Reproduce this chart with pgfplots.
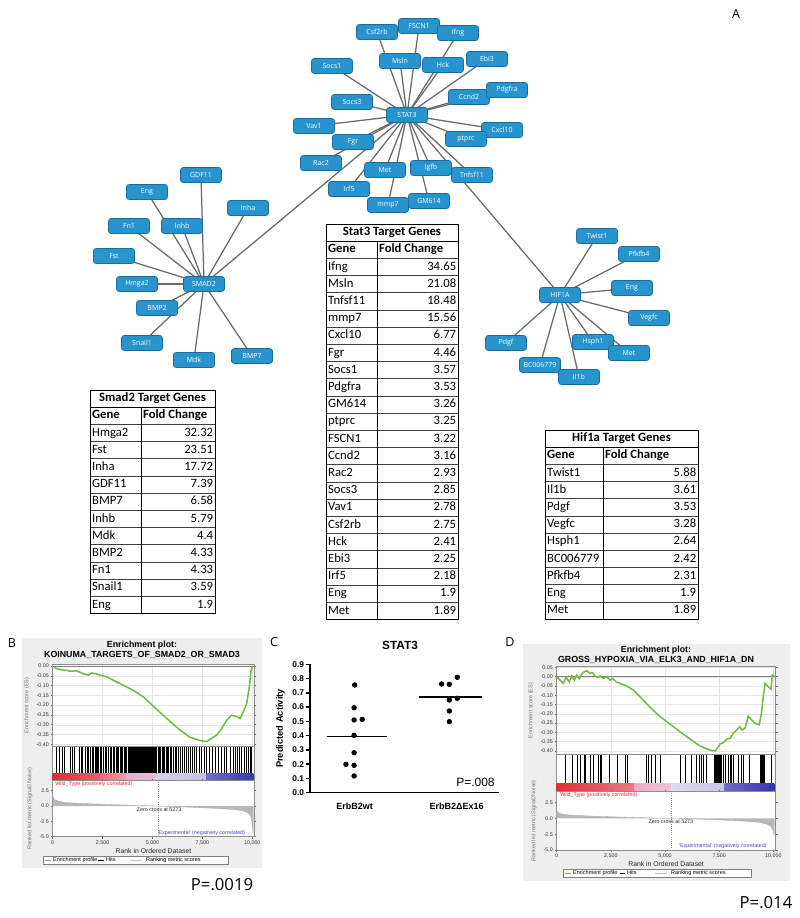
\documentclass[border=0pt]{standalone}
\usepackage{pgfplots}
\pgfplotsset{compat=1.18}
\usepackage{fontspec}
\setmainfont{Carlito}
\newfontfamily\arialf{Liberation Sans}
\newfontfamily\opsf{Open Sans}

\definecolor{nodeblue}{RGB}{40,148,206}
\definecolor{nodeedge}{RGB}{26,108,160}
\definecolor{edgegray}{RGB}{105,105,105}
\definecolor{esgreen}{RGB}{108,190,58}
\definecolor{panelgray}{RGB}{238,238,238}
\definecolor{wtred}{RGB}{225,40,50}
\definecolor{expblue}{RGB}{70,70,205}

\newcommand{\tabfont}{\fontsize{7.6}{9}\selectfont}
\tikzset{
 gn/.style={rounded corners=1.6pt, fill=nodeblue, draw=nodeedge, line width=0.4pt,
   minimum width=24.6pt, minimum height=9pt, inner sep=0pt, text=white,
   font=\opsf\fontsize{4.2}{5}\selectfont},
 ed/.style={edgegray, line width=0.75pt},
 tc/.style={inner sep=0pt, text height=5.0pt, text depth=1.4pt},
}

% #1 xl, #2 xm, #3 xr, #4 top, #5 title, #6 number of data rows, #7 data
\newcommand{\gtab}[7]{%
 \pgfmathsetmacro{\tbot}{#4+17.2*(#6+2)}
 \fill[white] (#1,#4) rectangle (#3,\tbot);
 \foreach \g/\v [count=\i] in {#7} {
   \draw[line width=0.45pt, black!75] (#1,{#4+17.2*(\i+1)}) -- (#3,{#4+17.2*(\i+1)});
   \node[tc, font=\tabfont, anchor=west] at (#1+1.8,{#4+17.2*(\i+1)+8.6}) {\g};
   \node[tc, font=\tabfont, anchor=east] at (#3-1.5,{#4+17.2*(\i+1)+8.6}) {\v};
 }
 \draw[line width=0.55pt] (#1,#4) rectangle (#3,\tbot);
 \draw[line width=0.55pt] (#1,#4+17.2) -- (#3,#4+17.2);
 \draw[line width=0.55pt] (#2,#4+17.2) -- (#2,\tbot);
 \node[tc, font=\tabfont\bfseries] at ({(#1+#3)/2},#4+8.6) {#5};
 \node[tc, font=\tabfont\bfseries, anchor=west] at (#1+1.8,#4+25.8) {Gene};
 \node[tc, font=\tabfont\bfseries, anchor=west] at (#2+1.8,#4+25.8) {Fold Change};
}

\def\statnodes{377/32/Csf2rb,419/26/FSCN1,458/33/Ifng,400/61/Msln,443/65/Hck,487/59/Ebi3,332/66/Socs1,469/97/Ccnd2,507/90/Pdgfra,352/102/Socs3,314/126/Vav1,502/130/Cxcl10,466/139/ptprc,353/142/Fgr,321/163/Rac2,385/170/Met,431/168/Igfb,472/175/Tnfsf11,349/189/Irf5,388/205/mmp7,429/201/GM614}
\def\smadnodes{201/175/GDF11,147/192/Eng,248/208/Inha,129/226/Fn1,182/226/Inhb,114/256/Fst,137/284/Hmga2,157/308/BMP2,142/343/Snail1,194/360/Mdk,252/356/BMP7}
\def\hifnodes{597/236/Twist1,639/254/Pfkfb4,632/288/Eng,649/318/Vegfc,506/343/Pdgf,593/342/Hsph1,629/353/Met,540/365/BC006779,579/377/Il1b}

\pgfplotsset{
 gsea/.style={scale only axis, anchor=north west, xmin=0, xmax=10100, clip=true,
   scaled x ticks=false, scaled y ticks=false,
   axis background/.style={fill=white},
   axis line style={black!45, line width=0.3pt},
   tick style={black!60, line width=0.3pt}, major tick length=1.3pt, tick align=outside,
   ticklabel style={font=\arialf\fontsize{3.2}{3.8}\selectfont, text=black!80, inner sep=0.8pt},
   label style={font=\arialf\fontsize{3.3}{4}\selectfont, text=black!55},
 },
}

\begin{document}
\begin{tikzpicture}
\begin{scope}[x=0.6pt,y=-0.6pt]
\path[use as bounding box] (0,0) rectangle (800,918);

% ---------------- network ----------------
\foreach \x/\y/\t in \statnodes {\draw[ed] (407,115) -- (\x,\y);}
\foreach \x/\y/\t in \smadnodes {\draw[ed] (204,284) -- (\x,\y);}
\foreach \x/\y/\t in \hifnodes {\draw[ed] (560,295) -- (\x,\y);}
\draw[ed] (407,115) -- (204,284);
\draw[ed] (407,115) -- (560,295);
\foreach \x/\y/\t in \statnodes {\node[gn] at (\x,\y) {\t};}
\foreach \x/\y/\t in \smadnodes {\node[gn] at (\x,\y) {\t};}
\foreach \x/\y/\t in \hifnodes {\node[gn] at (\x,\y) {\t};}
\node[gn] at (407,115) {STAT3};
\node[gn] at (204,284) {SMAD2};
\node[gn] at (560,295) {HIF1A};

% ---------------- tables ----------------
\gtab{90}{141}{215}{390}{Smad2 Target Genes}{11}{Hmga2/32.32,Fst/23.51,Inha/17.72,GDF11/7.39,BMP7/6.58,Inhb/5.79,Mdk/4.4,BMP2/4.33,Fn1/4.33,Snail1/3.59,Eng/1.9}
\gtab{326}{377}{458}{224}{Stat3 Target Genes}{21}{Ifng/34.65,Msln/21.08,Tnfsf11/18.48,mmp7/15.56,Cxcl10/6.77,Fgr/4.46,Socs1/3.57,Pdgfra/3.53,GM614/3.26,ptprc/3.25,FSCN1/3.22,Ccnd2/3.16,Rac2/2.93,Socs3/2.85,Vav1/2.78,Csf2rb/2.75,Hck/2.41,Ebi3/2.25,Irf5/2.18,Eng/1.9,Met/1.89}
\gtab{545}{603}{698}{430}{Hif1a Target Genes}{9}{Twist1/5.88,Il1b/3.61,Pdgf/3.53,Vegfc/3.28,Hsph1/2.64,BC006779/2.42,Pfkfb4/2.31,Eng/1.9,Met/1.89}

% ---------------- panel letters ----------------
\node[font=\opsf\fontsize{7.5}{9}\selectfont] at (736,14) {A};
\node[font=\opsf\fontsize{7.5}{9}\selectfont] at (12,643) {B};
\node[font=\opsf\fontsize{7.5}{9}\selectfont] at (274,642) {C};
\node[font=\opsf\fontsize{7.5}{9}\selectfont] at (510,642) {D};
\node[font=\opsf\fontsize{10}{12}\selectfont] at (222,885) {P=.0019};
\node[font=\opsf\fontsize{10}{12}\selectfont] at (766,903) {P=.014};

% ---------------- GSEA panel backgrounds, titles, legends ----------------
\fill[panelgray] (22,638) rectangle (262,868);
\fill[panelgray] (523,644) rectangle (790,881);
\node[font=\arialf\bfseries\fontsize{5.3}{6}\selectfont] at (142,645.5) {Enrichment plot:};
\node[font=\arialf\bfseries\fontsize{5.3}{6}\selectfont] at (142,655) {KOINUMA\_TARGETS\_OF\_SMAD2\_OR\_SMAD3};
\node[font=\arialf\bfseries\fontsize{5.3}{6}\selectfont] at (656,650) {Enrichment plot:};
\node[font=\arialf\bfseries\fontsize{5.3}{6}\selectfont] at (656,659.5) {GROSS\_HYPOXIA\_VIA\_ELK3\_AND\_HIF1A\_DN};

% legend B
\draw[fill=white, draw=black!50, line width=0.3pt] (43,856) rectangle (228,864);
\draw[esgreen, line width=0.6pt] (45,860) -- (51,860);
\node[font=\arialf\fontsize{3.3}{4}\selectfont, anchor=west, inner sep=0.5pt] at (52,860) {Enrichment profile};
\draw[black, line width=0.5pt] (98,860) -- (104,860);
\node[font=\arialf\fontsize{3.3}{4}\selectfont, anchor=west, inner sep=0.5pt] at (105,860) {Hits};
\draw[black!25, line width=0.5pt] (130,860) -- (142,860);
\node[font=\arialf\fontsize{3.3}{4}\selectfont, anchor=west, inner sep=0.5pt] at (145,860) {Ranking metric scores};
% legend D
\draw[fill=white, draw=black!50, line width=0.3pt] (563,869) rectangle (751,877);
\draw[esgreen, line width=0.6pt] (565,873) -- (571,873);
\node[font=\arialf\fontsize{3.3}{4}\selectfont, anchor=west, inner sep=0.5pt] at (572,873) {Enrichment profile};
\draw[black, line width=0.5pt] (620,873) -- (625,873);
\node[font=\arialf\fontsize{3.3}{4}\selectfont, anchor=west, inner sep=0.5pt] at (626,873) {Hits};
\draw[black!25, line width=0.5pt] (655,873) -- (667,873);
\node[font=\arialf\fontsize{3.3}{4}\selectfont, anchor=west, inner sep=0.5pt] at (670,873) {Ranking metric scores};

% C title
\node[font=\arialf\bfseries\fontsize{7.1}{8}\selectfont] at (400,645) {STAT3};

% anchor coordinates for axes
\coordinate (Bes) at (52.7,664);
\coordinate (Bhit) at (52.7,746.7);
\coordinate (Bmet) at (52.7,780.7);
\coordinate (Des) at (556.7,666.5);
\coordinate (Dhit) at (556.7,754.7);
\coordinate (Dmet) at (556.7,791.7);
\coordinate (Cax) at (310,664.3);
\end{scope}

% ================= Panel B =================
\begin{axis}[gsea, at={(Bes)}, width=120.96pt, height=49.6pt, ymin=-0.412, ymax=0.01,
  xtick={0,2500,5000,7500,10000}, xticklabels={}, xtick style={draw=none},
  ytick={0,-0.05,-0.1,-0.15,-0.2,-0.25,-0.3,-0.35,-0.4},
  yticklabels={0.00,-0.05,-0.10,-0.15,-0.20,-0.25,-0.30,-0.35,-0.40},
  xmajorgrids, ymajorgrids, grid style={black!10, line width=0.25pt},
  ylabel={Enrichment score (ES)}]
\addplot[black!50, line width=0.3pt] coordinates {(0,0) (10100,0)};
\addplot[esgreen, line width=0.9pt] coordinates {(0,0) (200,-0.014) (450,-0.02) (700,-0.022) (870,-0.027) (1200,-0.025) (1540,-0.04) (1790,-0.047) (1950,-0.036) (2200,-0.04) (2370,-0.047) (2700,-0.056) (3200,-0.081) (3700,-0.107) (4040,-0.124) (4540,-0.158) (5040,-0.205) (5710,-0.268) (6380,-0.327) (6880,-0.364) (7380,-0.381) (7720,-0.386) (7970,-0.369) (8220,-0.353) (8470,-0.319) (8720,-0.276) (8970,-0.251) (9220,-0.259) (9390,-0.268) (9550,-0.234) (9720,-0.192) (9850,-0.107) (9940,-0.022) (10000,0.0)};
\end{axis}

\begin{axis}[gsea, at={(Bhit)}, width=120.96pt, height=20.4pt, ymin=0, ymax=1, xtick=\empty, ytick=\empty]
\addplot[ycomb, black, line width=0.35pt, mark=none] coordinates {(200,1) (334,1) (468,1) (585,1) (902,1) (1002,1) (1102,1) (1336,1) (1420,1) (1503,1) (1637,1) (1737,1) (1804,1) (1870,1) (1971,1) (2037,1) (2121,1) (2171,1) (2238,1) (2305,1) (2371,1) (2438,1) (2538,1) (2622,1) (2705,1) (2806,1) (2872,1) (2939,1) (3039,1) (3106,1) (3173,1) (3240,1) (3307,1) (3373,1) (3440,1) (3507,1) (3574,1) (3641,1) (3707,1) (3774,1) (3841,1) (3891,1) (3941,1) (3991,1) (4041,1) (4092,1) (4142,1) (4192,1) (4242,1) (4292,1) (4342,1) (4392,1) (4442,1) (4492,1) (4542,1) (4593,1) (4643,1) (4693,1) (4743,1) (4793,1) (4843,1) (4893,1) (4943,1) (4993,1) (5043,1) (5094,1) (5144,1) (5210,1) (5277,1) (5344,1) (5411,1) (5478,1) (5544,1) (5611,1) (5678,1) (5745,1) (5812,1) (5878,1) (5962,1) (6045,1) (6129,1) (6212,1) (6296,1) (6379,1) (6480,1) (6580,1) (6680,1) (6780,1) (6880,1) (6997,1) (7114,1) (7214,1) (7348,1) (7465,1) (7582,1) (7715,1) (7849,1) (7983,1) (8133,1) (8300,1) (8467,1) (8584,1) (8717,1) (8884,1) (9051,1) (9152,1) (9252,1) (9352,1) (9469,1) (9586,1) (9686,1) (9803,1) (9886,1) (9970,1)};
\fill[left color={rgb,255:red,228;green,40;blue,52}, right color={rgb,255:red,236;green,95;blue,108}] (axis cs:0,0) rectangle (axis cs:2400,0.22);
\fill[left color={rgb,255:red,236;green,105;blue,118}, right color={rgb,255:red,240;green,160;blue,172}] (axis cs:2400,0) rectangle (axis cs:3700,0.22);
\fill[left color={rgb,255:red,228;green,175;blue,205}, right color={rgb,255:red,222;green,190;blue,218}] (axis cs:3700,0) rectangle (axis cs:5200,0.22);
\fill[left color={rgb,255:red,214;green,208;blue,236}, right color={rgb,255:red,196;green,192;blue,230}] (axis cs:5200,0) rectangle (axis cs:7700,0.22);
\fill[left color={rgb,255:red,112;green,112;blue,205}, right color={rgb,255:red,55;green,55;blue,168}] (axis cs:7700,0) rectangle (axis cs:10050,0.22);
\end{axis}

\begin{axis}[gsea, at={(Bmet)}, width=120.96pt, height=33.6pt, ymin=-5, ymax=4.13,
  xtick={0,2500,5000,7500,10000}, xticklabels={0,{2,500},{5,000},{7,500},{10,000}},
  ytick={-5,-2.5,0,2.5}, yticklabels={-5.0,-2.5,0.0,2.5},
  xlabel={Rank in Ordered Dataset}, xlabel style={font=\arialf\fontsize{4.1}{5}\selectfont, text=black!85, inner sep=1pt},
  ylabel={Ranked list metric (Signal2Noise)}]
\addplot[fill=black!28, draw=black!35, line width=0.2pt] coordinates {(0,0) (0,2.0) (30,1.4) (100,1.0) (300,0.75) (600,0.6) (1000,0.5) (1500,0.42) (2000,0.35) (3000,0.22) (4000,0.12) (5273,0) (6000,-0.08) (7000,-0.2) (8000,-0.35) (9000,-0.55) (9500,-0.75) (9800,-1.1) (9950,-1.8) (10000,-3.0) (10040,-4.6) (10040,0)};
\addplot[black!40, densely dotted, line width=0.3pt] coordinates {(5273,-5) (5273,4.13)};
\node[font=\arialf\fontsize{3.2}{4}\selectfont, anchor=west, text=wtred, inner sep=0pt] at (axis cs:115,3.55) {Wild\_Type (positively correlated)};
\node[font=\arialf\fontsize{3.2}{4}\selectfont, text=black!85, inner sep=0pt] at (axis cs:5330,-0.55) {Zero cross at 5273};
\node[font=\arialf\fontsize{3.2}{4}\selectfont, anchor=east, text=expblue, inner sep=0pt] at (axis cs:9650,-4.4) {'Experimental' (negatively correlated)};
\end{axis}

% ================= Panel D =================
\begin{axis}[gsea, at={(Des)}, width=131.3pt, height=52.9pt, ymin=-0.42, ymax=0.055,
  xtick={0,2500,5000,7500,10000}, xticklabels={}, xtick style={draw=none},
  ytick={0.05,0,-0.05,-0.1,-0.15,-0.2,-0.25,-0.3,-0.35,-0.4},
  yticklabels={0.05,0.00,-0.05,-0.10,-0.15,-0.20,-0.25,-0.30,-0.35,-0.40},
  xmajorgrids, ymajorgrids, grid style={black!10, line width=0.25pt},
  ylabel={Enrichment score (ES)}]
\addplot[black!50, line width=0.3pt] coordinates {(0,0) (10100,0)};
\addplot[esgreen, line width=0.9pt] coordinates {(0,0) (154,-0.018) (308,-0.036) (430,-0.004) (585,-0.027) (690,0.004) (815,-0.018) (920,0.009) (1045,-0.011) (1150,0.014) (1275,0.027) (1385,0.032) (1540,0.018) (1660,0.022) (1770,0.004) (1875,-0.004) (2000,0.004) (2150,-0.009) (2310,0.0) (2460,-0.018) (2585,-0.009) (2740,-0.027) (2920,-0.036) (3230,-0.05) (3540,-0.072) (3845,-0.108) (4310,-0.165) (4770,-0.215) (5380,-0.269) (6000,-0.323) (6610,-0.373) (7080,-0.395) (7305,-0.40) (7460,-0.377) (7540,-0.362) (7690,-0.355) (7845,-0.337) (8000,-0.332) (8150,-0.305) (8305,-0.287) (8460,-0.269) (8535,-0.287) (8690,-0.278) (8845,-0.212) (9000,-0.233) (9150,-0.251) (9350,-0.26) (9460,-0.188) (9535,-0.108) (9615,-0.036) (9770,-0.054) (9890,-0.068) (9950,0.009) (10040,0.0)};
\end{axis}

\begin{axis}[gsea, at={(Dhit)}, width=131.3pt, height=22.2pt, ymin=0, ymax=1, xtick=\empty, ytick=\empty]
\addplot[ycomb, black, line width=0.35pt, mark=none] coordinates {(385,1) (723,1) (954,1) (1077,1) (1277,1) (1338,1) (1538,1) (1692,1) (1923,1) (2000,1) (2077,1) (2430,1) (2800,1) (2815,1) (3153,1) (3261,1) (4122,1) (4230,1) (4383,1) (4537,1) (4799,1) (5691,1) (5952,1) (6229,1) (6460,1) (6583,1) (6690,1) (6767,1) (6921,1) (7275,1) (7306,1) (7352,1) (7383,1) (7413,1) (7460,1) (7506,1) (7536,1) (7613,1) (7690,1) (7767,1) (7921,1) (7998,1) (8075,1) (8151,1) (8382,1) (8505,1) (8613,1) (8890,1) (9382,1) (9428,1) (9490,1) (9536,1) (9567,1) (9920,1)};
\fill[left color={rgb,255:red,230;green,45;blue,55}, right color={rgb,255:red,240;green,120;blue,130}] (axis cs:0,0) rectangle (axis cs:3600,0.21);
\fill[left color={rgb,255:red,240;green,175;blue,200}, right color={rgb,255:red,238;green,195;blue,215}] (axis cs:3600,0) rectangle (axis cs:5300,0.21);
\fill[left color={rgb,255:red,222;green,218;blue,240}, right color={rgb,255:red,200;green,196;blue,232}] (axis cs:5300,0) rectangle (axis cs:7750,0.21);
\fill[left color={rgb,255:red,110;green,110;blue,205}, right color={rgb,255:red,50;green,50;blue,165}] (axis cs:7750,0) rectangle (axis cs:10050,0.21);
\end{axis}

\begin{axis}[gsea, at={(Dmet)}, width=131.3pt, height=35pt, ymin=-5, ymax=4.2,
  xtick={0,2500,5000,7500,10000}, xticklabels={0,{2,500},{5,000},{7,500},{10,000}},
  ytick={-5,-2.5,0,2.5}, yticklabels={-5.0,-2.5,0.0,2.5},
  xlabel={Rank in Ordered Dataset}, xlabel style={font=\arialf\fontsize{4.1}{5}\selectfont, text=black!85, inner sep=1pt},
  ylabel={Ranked list metric (Signal2Noise)}]
\addplot[fill=black!28, draw=black!35, line width=0.2pt] coordinates {(0,0) (0,1.3) (40,1.0) (150,0.75) (500,0.55) (1000,0.45) (2000,0.3) (3000,0.2) (4000,0.1) (5273,0) (6500,-0.12) (7500,-0.25) (8500,-0.4) (9300,-0.6) (9700,-0.9) (9900,-1.3) (10000,-2.0) (10040,-2.8) (10040,0)};
\addplot[black!40, densely dotted, line width=0.3pt] coordinates {(5273,-5) (5273,4.2)};
\node[font=\arialf\fontsize{3.2}{4}\selectfont, anchor=west, text=wtred, inner sep=0pt] at (axis cs:150,3.65) {Wild\_Type (positively correlated)};
\node[font=\arialf\fontsize{3.2}{4}\selectfont, text=black!85, inner sep=0pt] at (axis cs:5273,-0.5) {Zero cross at 5273};
\node[font=\arialf\fontsize{3.2}{4}\selectfont, anchor=east, text=expblue, inner sep=0pt] at (axis cs:9700,-4.42) {'Experimental' (negatively correlated)};
\end{axis}

% ================= Panel C =================
\begin{axis}[at={(Cax)}, anchor=north west, scale only axis, width=113.6pt, height=77.04pt,
  xmin=0, xmax=1, ymin=0, ymax=0.9, clip=false,
  axis x line*=bottom, axis y line*=left,
  axis line style={line width=0.9pt},
  ytick={0,0.1,0.2,0.3,0.4,0.5,0.6,0.7,0.8,0.9},
  yticklabels={0.0,0.1,0.2,0.3,0.4,0.5,0.6,0.7,0.8,0.9},
  xtick={0.236,0.775}, xticklabels={ErbB2wt,ErbB2ΔEx16},
  tick align=outside, major tick length=2.4pt,
  ytick style={line width=0.9pt, black}, xtick style={draw=none},
  yticklabel style={font=\arialf\bfseries\fontsize{5}{6}\selectfont, inner sep=1pt},
  xticklabel style={font=\arialf\bfseries\fontsize{5.4}{6}\selectfont},
  ylabel={Predicted Activity}, ylabel style={font=\arialf\bfseries\fontsize{5.6}{6.5}\selectfont}]
\addplot[only marks, mark=*, mark size=1.4pt, black] coordinates {(0.236,0.755) (0.233,0.596) (0.233,0.51) (0.276,0.514) (0.233,0.402) (0.233,0.28) (0.190,0.199) (0.233,0.192) (0.233,0.117)};
\addplot[only marks, mark=*, mark size=1.4pt, black] coordinates {(0.778,0.809) (0.695,0.762) (0.736,0.76) (0.736,0.65) (0.778,0.662) (0.736,0.573) (0.736,0.498)};
\addplot[black, line width=0.8pt] coordinates {(0.088,0.393) (0.405,0.393)};
\addplot[black, line width=0.8pt] coordinates {(0.577,0.671) (0.907,0.671)};
\node[font=\arialf\fontsize{7.2}{8}\selectfont, anchor=east, inner sep=0pt] at (axis cs:0.977,0.075) {P=.008};
\end{axis}
\end{tikzpicture}
\end{document}
